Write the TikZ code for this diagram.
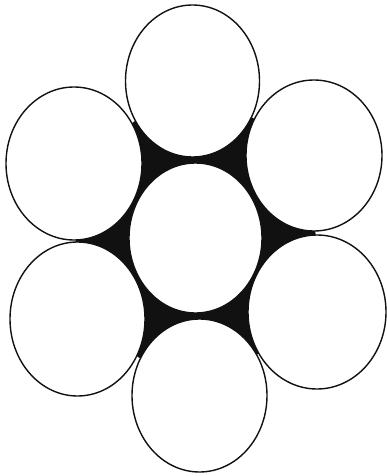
\documentclass[tikz,border=0pt]{standalone}
\usepackage{xcolor}
\definecolor{Ink}{HTML}{111111}
\tikzset{
  wire/.style={draw=Ink,line width=1.4pt},
  core/.style={fill=white}
}
\begin{document}
\begin{tikzpicture}[x=1pt,y=-1pt]
\useasboundingbox (0,0) rectangle (387,476);
% strand centres
\coordinate (sT)  at (192.5,81.0);
\coordinate (sUL) at (74.0,163.5);
\coordinate (sUR) at (314.0,155.5);
\coordinate (sC)  at (195.5,238.0);
\coordinate (sLL) at (77.5,319.0);
\coordinate (sLR) at (317.0,312.0);
\coordinate (sB)  at (199.5,395.5);
% filler between strands
\fill[Ink] (sT) -- (sUR) -- (sLR) -- (sB) -- (sLL) -- (sUL) -- cycle;
\foreach \s/\rx/\ry in {sT/67/76,sUL/68/76.5,sUR/68/75.5,sC/66.5/75,sLL/67.5/77,sLR/69/77,sB/67.5/76.5}
  \fill[core] (\s) ellipse ({\rx} and {\ry});
\foreach \s/\rx/\ry in {sT/67/76,sUL/68/76.5,sUR/68/75.5,sC/66.5/75,sLL/67.5/77,sLR/69/77,sB/67.5/76.5}
  \draw[wire] (\s) ellipse ({\rx} and {\ry});
\end{tikzpicture}
\end{document}
